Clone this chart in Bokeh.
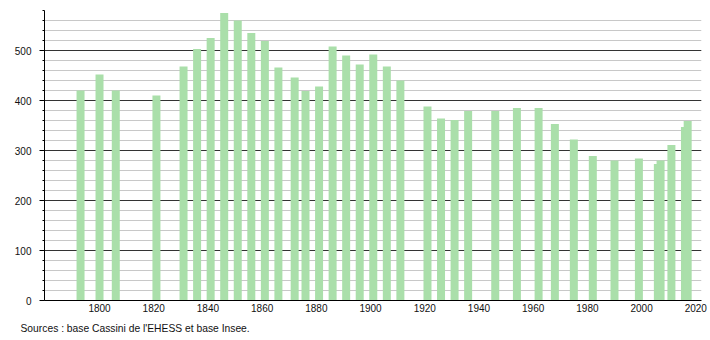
from bokeh.plotting import figure
from bokeh.models import Range1d, SingleIntervalTicker, FixedTicker, Title
from bokeh.embed import file_html
from bokeh.resources import INLINE

years = [1793, 1800, 1806, 1821, 1831, 1836, 1841, 1846, 1851, 1856, 1861, 1866,
         1872, 1876, 1881, 1886, 1891, 1896, 1901, 1906, 1911, 1921, 1926, 1931,
         1936, 1946, 1954, 1962, 1968, 1975, 1982, 1990, 1999, 2006, 2007, 2011,
         2016, 2017]
population = [420, 452, 420, 410, 468, 503, 525, 575, 560, 535, 519, 466,
              446, 419, 428, 508, 490, 472, 492, 468, 440, 388, 364, 361,
              379, 379, 385, 385, 353, 322, 289, 280, 284, 273, 280, 311,
              347, 359]
x_ticks = [1800, 1820, 1840, 1860, 1880, 1900, 1920, 1940, 1960, 1980, 2000, 2020]
source_text = "Sources : base Cassini de l'EHESS et base Insee."

FONT = "Liberation Sans"

p = figure(width=710, height=340, output_backend="svg", toolbar_location=None,
           x_range=Range1d(1779.7, 2022.1), y_range=Range1d(0, 580),
           min_border_left=44, min_border_right=9, min_border_top=10,
           min_border_bottom=11, background_fill_color="white",
           border_fill_color="white")
p.outline_line_color = None

p.vbar(x=years, top=population, width=2.95, fill_color="#aadfaa",
       line_color=None)

# y axis
p.yaxis.ticker = SingleIntervalTicker(interval=100, num_minor_ticks=5)
p.yaxis.axis_line_color = "black"
p.yaxis.major_tick_out = 5
p.yaxis.major_tick_in = 0
p.yaxis.minor_tick_out = 2
p.yaxis.minor_tick_in = 0
p.yaxis.major_tick_line_color = "black"
p.yaxis.minor_tick_line_color = "black"
p.yaxis.major_label_standoff = 8
p.yaxis.major_label_text_font = FONT
p.yaxis.major_label_text_font_size = "10px"
p.yaxis.major_label_text_color = "#111111"

# x axis
p.xaxis.ticker = FixedTicker(ticks=x_ticks)
p.xaxis.axis_line_color = "black"
p.xaxis.major_tick_line_color = None
p.xaxis.minor_tick_line_color = None
p.xaxis.major_tick_out = 0
p.xaxis.major_tick_in = 0
p.xaxis.major_label_standoff = 3
p.xaxis.major_label_text_font = FONT
p.xaxis.major_label_text_font_size = "10px"
p.xaxis.major_label_text_color = "#111111"

# grids
p.xgrid.grid_line_color = None
p.ygrid.grid_line_color = "#333333"
p.ygrid.grid_line_width = 1
p.ygrid.minor_grid_line_color = "#c8c8c8"
p.ygrid.minor_grid_line_width = 1

src = Title(text=source_text, align="left", text_font=FONT,
            text_font_size="10.3px", text_font_style="normal",
            text_color="#111111", offset=-24, standoff=13)
p.add_layout(src, "below")

open("out.html", "w").write(file_html(p, INLINE))
